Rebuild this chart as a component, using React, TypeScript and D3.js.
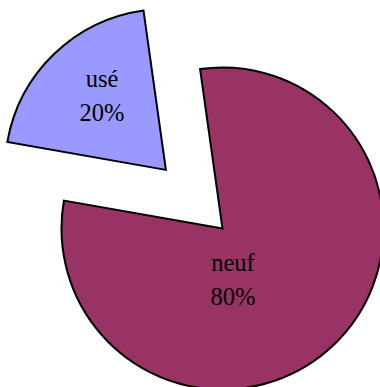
import React from "react";
import * as d3 from "d3";

const categories = ["neuf", "usé"];
const values = [80, 20];
const percentLabels = ["80%", "20%"];
const colors = ["#993366", "#9999FF"];
const explode = [0, 81.5];

const W = 380;
const H = 387;
const cx = 222.5;
const cy = 228.5;
const R = 161;
const startDeg = -8;

export default function App() {
  const data = categories.map((c, i) => ({ c, v: values[i], p: percentLabels[i], col: colors[i], ex: explode[i] }));
  const pie = d3
    .pie<any>()
    .sort(null)
    .value((d: any) => d.v)
    .startAngle((startDeg * Math.PI) / 180)
    .endAngle((startDeg * Math.PI) / 180 + 2 * Math.PI);
  const arcs = pie(data);
  const arc = d3.arc<any>().innerRadius(0).outerRadius(R);
  const labelPos = (a: any, i: number) => {
    if (i === 0) {
      const ang = (170 * Math.PI) / 180;
      return [Math.sin(ang) * 60, -Math.cos(ang) * 60];
    }
    const mid = (a.startAngle + a.endAngle) / 2;
    return [Math.sin(mid) * 92, -Math.cos(mid) * 92];
  };
  return (
    <svg
      width={W}
      height={H}
      style={{ position: "fixed", left: 0, top: 0, display: "block", background: "#fff" }}
    >
      {arcs.map((a, i) => {
        const mid = (a.startAngle + a.endAngle) / 2;
        const dx = Math.sin(mid) * a.data.ex;
        const dy = -Math.cos(mid) * a.data.ex;
        const [lx, ly] = labelPos(a, i);
        return (
          <g key={a.data.c} transform={`translate(${cx + dx},${cy + dy})`}>
            <path d={arc(a) as string} fill={a.data.col} stroke="#000" strokeWidth={2} strokeLinejoin="miter" />
            <text
              x={lx}
              y={ly - 17}
              textAnchor="middle"
              fontFamily="'Liberation Serif', 'Times New Roman', serif"
              fontSize={24.5}
              fill="#000"
            >
              {a.data.c}
            </text>
            <text
              x={lx}
              y={ly + 17}
              textAnchor="middle"
              fontFamily="'Liberation Serif', 'Times New Roman', serif"
              fontSize={24.5}
              fill="#000"
            >
              {a.data.p}
            </text>
          </g>
        );
      })}
    </svg>
  );
}
